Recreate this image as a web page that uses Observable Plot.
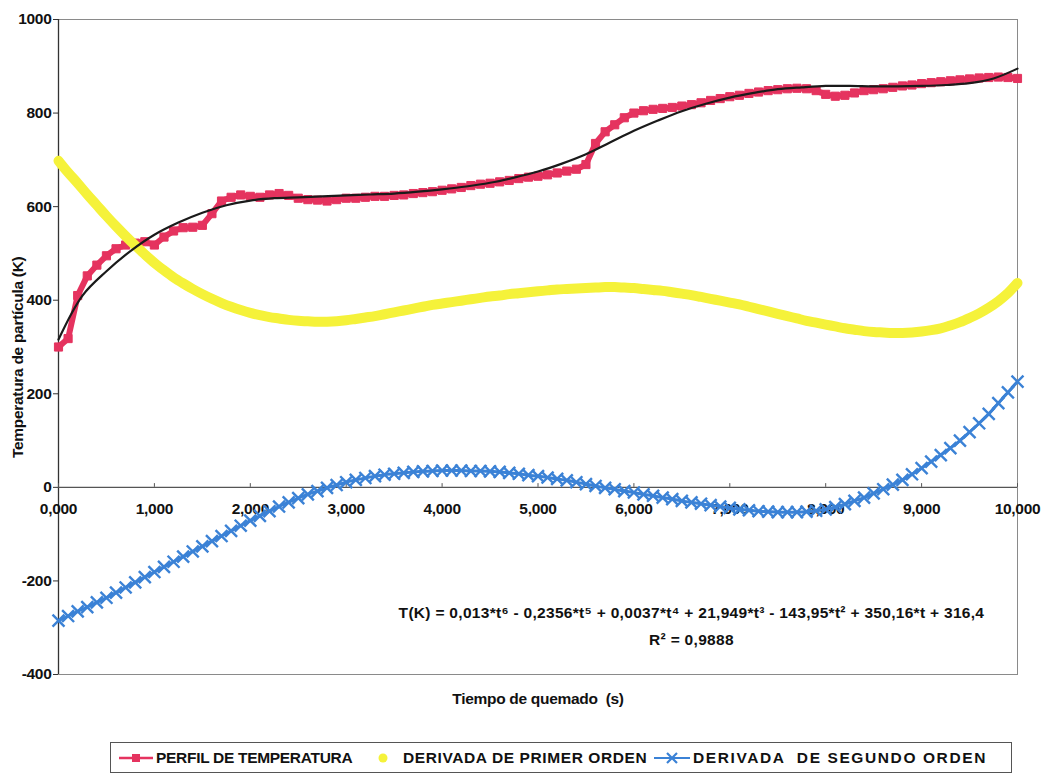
<!DOCTYPE html>
<html><head><meta charset="utf-8">
<script src="https://cdn.jsdelivr.net/npm/d3@7"></script>
<script src="https://cdn.jsdelivr.net/npm/@observablehq/plot@0.6"></script>
<style>
body{margin:0;background:#fff;font-family:"Liberation Sans",Arial,sans-serif;}
#wrap{position:relative;width:1045px;height:775px;overflow:hidden;}
#legend{position:absolute;left:110px;top:742px;width:900px;height:29px;border:1px solid #555;font-size:15.5px;font-weight:bold;color:#111;letter-spacing:-0.2px;}
.item{position:absolute;top:0;height:29px;display:flex;align-items:center;white-space:pre;}
.item svg{margin-right:3px;}
</style></head><body>
<div id="wrap"><div id="chart"></div><div id="legend"></div></div>
<script>
// ---- data ----
const times = d3.range(0, 101).map(i => i / 10);
const perfilTemperatura = [300,318,410,452,475,495,510,518,522,525,518,535,548,555,556,560,585,612,620,625,
622,620,625,628,624,618,615,614,612,615,618,618,620,622,622,624,625,628,630,632,
635,638,641,645,648,650,653,656,660,663,665,668,672,676,680,690,735,760,775,790,
800,805,808,810,812,815,818,822,827,831,835,838,842,845,848,850,852,853,852,848,
840,836,838,843,848,850,852,855,858,860,863,865,867,869,871,873,875,876,877,876,874];
const derivadaPrimer = [698,673,650,626,603,580,558,537,517,498,480,464,449,436,424,413,403,394,386,379,
373,368,364,361,358,356,355,354,354,355,357,360,363,366,370,374,378,382,386,390,
393,396,399,402,405,408,410,413,415,417,419,421,423,424,425,426,427,428,428,427,
426,424,422,420,417,414,411,407,403,399,395,391,386,381,376,371,366,361,356,352,
348,344,340,337,334,332,331,330,330,331,333,336,340,346,353,362,372,384,398,415,437];
const derivadaSegundo = [-285,-275,-265,-256,-246,-236,-225,-214,-203,-192,-181,-170,-159,-148,-137,-126,-115,-104,-93,-82,
-71,-61,-51,-41,-32,-23,-15,-8,-1,5,11,16,20,24,27,29,31,33,34,35,
36,36,36,35,35,34,33,31,29,26,24,21,18,15,11,7,3,-1,-4,-8,
-11,-15,-18,-22,-25,-29,-32,-35,-38,-41,-44,-47,-49,-51,-52,-53,-53,-53,-52,-50,
-47,-42,-36,-29,-22,-13,-4,6,16,28,41,55,69,84,100,118,137,157,180,203,226];
const trendTimes = d3.range(0, 41).map(i => i / 4);
const tendencia = [316,410,462,505,540,566,587,603,613,618,620,622,624,626,628,632,637,643,651,662,
675,692,712,737,762,784,804,820,833,843,851,855,858,858,857,857,858,860,864,874,895];
const xTicks = [0,1,2,3,4,5,6,7,8,9,10];
const xTickLabels = ["0,000","1,000","2,000","3,000","4,000","5,000","6,000","7,000","8,000","9,000","10,000"];
const yTicks = [-400,-200,0,200,400,600,800,1000];
const seriesNames = ["PERFIL DE TEMPERATURA","DERIVADA DE PRIMER ORDEN","DERIVADA  DE SEGUNDO ORDEN"];
const equation = ["T(K) = 0,013*t⁶ - 0,2356*t⁵ + 0,0037*t⁴ + 21,949*t³ - 143,95*t² + 350,16*t + 316,4", "R² = 0,9888"];

const pink = "#e5335f", yellow = "#f5f23a", blue = "#3b82d6";

const mk = (vals) => vals.map((v, i) => ({t: times[i], v}));
const pData = mk(perfilTemperatura), yData = mk(derivadaPrimer), bData = mk(derivadaSegundo);
const tData = tendencia.map((v, i) => ({t: trendTimes[i], v}));

const chart = Plot.plot({
  width: 1045, height: 738,
  marginLeft: 58, marginRight: 28, marginTop: 19, marginBottom: 64,
  x: {domain: [0, 10]},
  y: {domain: [-400, 1000]},
  style: {fontFamily: '"Liberation Sans", Arial, sans-serif', fontSize: "15.5px", fontWeight: "bold", color: "#111", background: "#fff"},
  marks: [
    Plot.frame({stroke: "#8a8a8a", strokeWidth: 1}),
    Plot.axisY({ticks: yTicks, tickSize: 5, tickPadding: 2, label: null, tickFormat: d => String(d), fontSize: 15.5, stroke: "#333"}),
    Plot.axisX({ticks: [], label: null}),
    Plot.ruleX([0], {stroke: "#333", strokeWidth: 1.3}),
    Plot.ruleY([0], {stroke: "#555", strokeWidth: 1.2}),
    Plot.ruleX(xTicks, {x: d => d, y1: 0, y2: 8, stroke: "#555"}),
    Plot.text(xTicks, {x: d => d, y: 0, text: (d, i) => xTickLabels[i], dy: 22, fontSize: 15.5, fill: "#111"}),
    // series
    Plot.line(pData, {x: "t", y: "v", stroke: pink, strokeWidth: 6}),
    Plot.dot(pData, {x: "t", y: "v", symbol: "square", r: 4.6, fill: pink, stroke: pink, strokeWidth: 1}),
    Plot.line(yData, {x: "t", y: "v", stroke: yellow, strokeWidth: 10, curve: "catmull-rom", strokeLinecap: "round"}),
    Plot.line(bData, {x: "t", y: "v", stroke: blue, strokeWidth: 3, curve: "catmull-rom"}),
    Plot.dot(bData, {x: "t", y: "v", symbol: "times", r: 5.5, stroke: blue, strokeWidth: 2.4}),
    Plot.line(tData, {x: "t", y: "v", stroke: "#1a1a1a", strokeWidth: 2.2, curve: "catmull-rom"}),
    // annotations
    Plot.text([equation[0]], {x: 6.6, y: -268, text: d => d, fontSize: 15.5, fill: "#111", className: "eq"}),
    Plot.text([equation[1]], {x: 6.6, y: -326, text: d => d, fontSize: 15.5, fill: "#111", className: "eq"}),
    Plot.text(["Tiempo de quemado  (s)"], {frameAnchor: "bottom", dy: 29, fontSize: 15.5, fill: "#111"}),
    Plot.text(["Temperatura de partícula (K)"], {frameAnchor: "left", y: 278, textAnchor: "middle", rotate: -90, dx: -40, fontSize: 15.5, fill: "#111"})
  ]
});
chart.querySelectorAll("text").forEach(t => t.setAttribute("letter-spacing", "-0.3"));
chart.querySelectorAll("g.eq text").forEach(t => t.setAttribute("letter-spacing", "0.3"));
document.getElementById("chart").appendChild(chart);

// legend
const legend = document.getElementById("legend");
const swatches = [
  `<svg width="34" height="12"><line x1="0" y1="6" x2="34" y2="6" stroke="${pink}" stroke-width="2.5"/><rect x="13" y="2" width="8" height="8" fill="${pink}"/></svg>`,
  `<svg width="34" height="12"><circle cx="17" cy="6" r="4.5" fill="${yellow}"/></svg>`,
  `<svg width="36" height="12"><line x1="0" y1="6" x2="36" y2="6" stroke="${blue}" stroke-width="2"/><path d="M13,1L23,11M23,1L13,11" stroke="${blue}" stroke-width="2.2"/></svg>`
];
const lefts = [8, 255, 543];
const spacing = ["-0.3px", "0.6px", "1.6px"];
seriesNames.forEach((name, i) => {
  const d = document.createElement("div");
  d.className = "item";
  d.style.left = lefts[i] + "px";
  d.innerHTML = swatches[i] + `<span style="letter-spacing:${spacing[i]}">${name}</span>`;
  legend.appendChild(d);
});
</script>
</body></html>
